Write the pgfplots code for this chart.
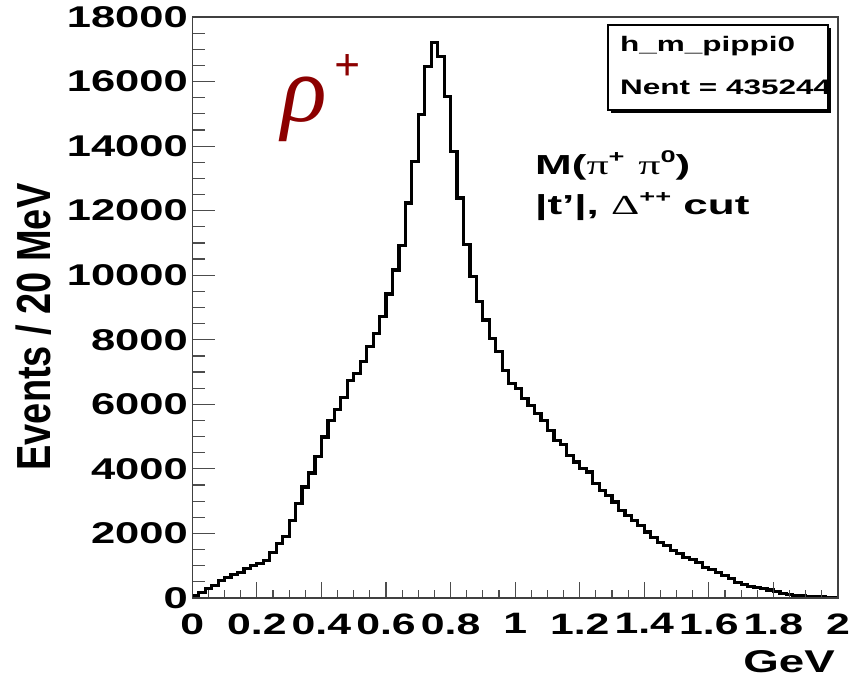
\documentclass[border=0pt]{standalone}
\usepackage{fontspec}
\usepackage{pgfplots}
\usepackage{pgfplotstable}
\pgfplotsset{compat=1.18}
\usepackage{graphicx}
\setmainfont{Liberation Sans}
\newfontfamily\rootfont[FakeStretch=1.45]{Liberation Sans Bold}
\newfontfamily\statfont[FakeStretch=1.5]{Liberation Sans Bold}
\newfontfamily\annfont[FakeStretch=1.6]{Liberation Sans Bold}
\newfontfamily\greekfont[FakeStretch=1.6]{Liberation Serif}
\newfontfamily\rhofont{Liberation Serif Italic}
\newfontfamily\plusfont{Liberation Serif Bold}
\newfontfamily\labfont{Liberation Sans Bold}
\definecolor{rhored}{RGB}{140,0,0}
\newcommand\fs[1]{\fontsize{#1bp}{#1bp}\selectfont}

\pgfplotstableread{
x y
0.00 60
0.02 160
0.04 290
0.06 400
0.08 545
0.10 645
0.12 730
0.14 800
0.16 905
0.18 1010
0.20 1080
0.22 1165
0.24 1420
0.26 1680
0.28 1910
0.30 2405
0.32 2925
0.34 3440
0.36 3875
0.38 4390
0.40 4990
0.42 5490
0.44 5840
0.46 6215
0.48 6750
0.50 6960
0.52 7320
0.54 7785
0.56 8200
0.58 8715
0.60 9420
0.62 10165
0.64 10920
0.66 12235
0.68 13525
0.70 14975
0.72 16475
0.74 17200
0.76 16785
0.78 15545
0.80 13835
0.82 12390
0.84 10940
0.86 9960
0.88 9180
0.90 8610
0.92 8045
0.94 7630
0.96 7060
0.98 6650
1.00 6490
1.02 6180
1.04 5975
1.06 5715
1.08 5510
1.10 5200
1.12 4890
1.14 4750
1.16 4420
1.18 4215
1.20 4010
1.22 3905
1.24 3545
1.26 3340
1.28 3180
1.30 2975
1.32 2715
1.34 2560
1.36 2405
1.38 2250
1.40 2045
1.42 1885
1.44 1730
1.46 1630
1.48 1475
1.50 1370
1.52 1265
1.54 1200
1.56 1100
1.58 950
1.60 885
1.62 800
1.64 700
1.66 595
1.68 490
1.70 420
1.72 355
1.74 315
1.76 285
1.78 250
1.80 210
1.82 150
1.84 120
1.86 85
1.88 65
1.90 45
1.92 40
1.94 30
1.96 20
1.98 10
2.00 10
}\histdata

\begin{document}
\begin{tikzpicture}[x=1bp,y=1bp]
\path[use as bounding box] (0,0) rectangle (855,-681);
% axis with y ticks and the histogram
\begin{axis}[
  at={(192.3bp,-598bp)}, anchor=south west,
  scale only axis, width=645.7bp, height=581bp,
  xmin=0, xmax=2, ymin=0, ymax=18000,
  axis line style={black!75, line width=1.3bp},
  xtick=\empty,
  ytick={0,2000,4000,6000,8000,10000,12000,14000,16000,18000},
  minor y tick num=3,
  major tick length=23bp, minor tick length=13bp,
  tick align=inside, ytick pos=left,
  every tick/.style={black!70, line width=1.2bp},
  scaled y ticks=false,
  /pgf/number format/1000 sep={},
  /pgf/number format/assume math mode=true,
  yticklabel style={font=\rootfont\fs{30}, xshift=-1bp},
]
\addplot[const plot mark left, black, line width=3.2bp, no marks] table[x=x,y=y]{\histdata};
\end{axis}
% axis with x ticks
\begin{axis}[
  at={(192.3bp,-598bp)}, anchor=south west,
  scale only axis, width=645.7bp, height=581bp,
  xmin=0, xmax=2, ymin=0, ymax=18000,
  axis line style={black!75, line width=1.3bp},
  ytick=\empty,
  xtick={0,0.2,0.4,0.6,0.8,1,1.2,1.4,1.6,1.8,2},
  xticklabels={0,0.2,0.4,0.6,0.8,1,1.2,1.4,1.6,1.8,2},
  minor x tick num=3,
  major tick length=16bp, minor tick length=8bp,
  tick align=inside, xtick pos=bottom,
  every tick/.style={black!70, line width=1.2bp},
  xticklabel style={font=\rootfont\fs{29.5}, yshift=-12bp},
]
\end{axis}
% axis titles
\node[rotate=90, inner sep=0pt] at (34,-327) {\scalebox{1.15}[1.45]{\labfont\fs{33}Events / 20 MeV}};
\node[anchor=base east, inner sep=0pt] at (835,-672) {\rootfont\fs{31.5}GeV};
% stats box
\fill[black] (611,-28) rectangle (831,-113);
\draw[black, line width=1.3bp, fill=white] (608,-25) rectangle (828,-110);
\node[anchor=base west, inner sep=0pt] at (620,-52) {\statfont\fs{21}h\_m\_pippi0};
\node[anchor=base west, inner sep=0pt] at (620,-95) {\statfont\fs{21}Nent = 435244};
% annotations
\node[anchor=base west, inner sep=0pt, text=rhored] at (281,-122) {\rhofont\fs{95}ρ};
\node[inner sep=0pt, text=rhored] at (348,-68) {\plusfont\fs{46}+};
\node[anchor=base west, inner sep=0pt] at (535,-174) {\annfont\fs{27.5}M({\greekfont π}\raisebox{0.42em}{\fs{17}+}\,\,\,{\greekfont π}\raisebox{0.42em}{\fs{17}0})};
\node[anchor=base west, inner sep=0pt] at (535,-214) {\annfont\fs{27.5}|t’|, {\greekfont Δ}\raisebox{0.42em}{\fs{17}++} cut};
\end{tikzpicture}
\end{document}
